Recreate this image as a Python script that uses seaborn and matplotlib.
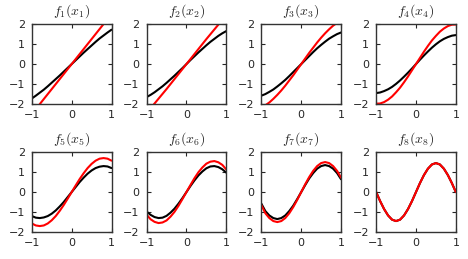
import matplotlib
matplotlib.use("Agg")
import matplotlib.pyplot as plt
import seaborn as sns
import numpy as np

x_vals = [-1.0, -0.9, -0.8, -0.7, -0.6, -0.5, -0.4, -0.3, -0.2, -0.1, 0.0,
          0.1, 0.2, 0.3, 0.4, 0.5, 0.6, 0.7, 0.8, 0.9, 1.0]

titles = ['$f_1(x_1)$', '$f_2(x_2)$', '$f_3(x_3)$', '$f_4(x_4)$',
          '$f_5(x_5)$', '$f_6(x_6)$', '$f_7(x_7)$', '$f_8(x_8)$']

# black curves
black_1 = [-1.72, -1.58, -1.43, -1.28, -1.11, -0.93, -0.75, -0.57, -0.38, -0.19, 0.0,
           0.19, 0.38, 0.57, 0.75, 0.93, 1.11, 1.28, 1.43, 1.58, 1.72]
black_2 = [-1.65, -1.54, -1.41, -1.26, -1.11, -0.94, -0.76, -0.58, -0.39, -0.20, 0.0,
           0.20, 0.39, 0.58, 0.76, 0.94, 1.11, 1.26, 1.41, 1.54, 1.65]
black_3 = [-1.58, -1.50, -1.39, -1.27, -1.12, -0.96, -0.79, -0.60, -0.40, -0.20, 0.0,
           0.20, 0.40, 0.60, 0.79, 0.96, 1.12, 1.27, 1.39, 1.50, 1.58]
black_4 = [-1.45, -1.42, -1.35, -1.26, -1.14, -0.99, -0.82, -0.63, -0.43, -0.22, 0.0,
           0.22, 0.43, 0.63, 0.82, 0.99, 1.14, 1.26, 1.35, 1.42, 1.45]
black_5 = [-1.20, -1.28, -1.30, -1.27, -1.20, -1.08, -0.92, -0.72, -0.50, -0.25, 0.0,
           0.25, 0.50, 0.72, 0.92, 1.08, 1.20, 1.27, 1.30, 1.28, 1.20]
black_6 = [-0.97, -1.14, -1.25, -1.30, -1.28, -1.19, -1.03, -0.83, -0.58, -0.30, 0.0,
           0.30, 0.58, 0.83, 1.03, 1.19, 1.28, 1.30, 1.25, 1.14, 0.97]
black_7 = [-0.58, -0.95, -1.17, -1.30, -1.35, -1.30, -1.17, -0.95, -0.68, -0.35, 0.0,
           0.35, 0.68, 0.95, 1.17, 1.30, 1.35, 1.30, 1.17, 0.95, 0.64]
black_8 = [0.0, -0.45, -0.85, -1.17, -1.38, -1.45, -1.38, -1.17, -0.85, -0.45, 0.0,
           0.45, 0.85, 1.17, 1.38, 1.45, 1.38, 1.17, 0.85, 0.45, 0.0]

# red curves
red_1 = [-2.5, -2.25, -2.0, -1.75, -1.5, -1.25, -1.0, -0.75, -0.5, -0.25, 0.0,
         0.25, 0.5, 0.75, 1.0, 1.25, 1.5, 1.75, 2.0, 2.25, 2.5]
red_2 = [-2.4, -2.2, -1.97, -1.73, -1.49, -1.25, -1.0, -0.75, -0.5, -0.25, 0.0,
         0.25, 0.5, 0.75, 1.0, 1.25, 1.49, 1.73, 1.97, 2.2, 2.4]
red_3 = [-2.18, -2.06, -1.92, -1.74, -1.54, -1.32, -1.08, -0.82, -0.56, -0.28, 0.0,
         0.28, 0.56, 0.82, 1.08, 1.32, 1.54, 1.74, 1.92, 2.06, 2.18]
red_4 = [-1.98, -1.97, -1.90, -1.78, -1.62, -1.41, -1.18, -0.91, -0.62, -0.31, 0.0,
         0.31, 0.62, 0.91, 1.18, 1.41, 1.62, 1.78, 1.90, 1.97, 1.98]
red_5 = [-1.57, -1.67, -1.70, -1.67, -1.57, -1.41, -1.20, -0.94, -0.65, -0.33, 0.0,
         0.33, 0.65, 0.94, 1.20, 1.41, 1.57, 1.67, 1.70, 1.67, 1.57]
red_6 = [-1.13, -1.36, -1.49, -1.55, -1.52, -1.42, -1.23, -0.99, -0.69, -0.35, 0.0,
         0.35, 0.69, 0.99, 1.23, 1.42, 1.52, 1.55, 1.49, 1.36, 1.13]
red_7 = [-0.65, -1.06, -1.30, -1.45, -1.50, -1.45, -1.30, -1.06, -0.75, -0.39, 0.0,
         0.39, 0.75, 1.06, 1.30, 1.45, 1.50, 1.45, 1.30, 1.06, 0.72]
red_8 = [0.0, -0.45, -0.85, -1.17, -1.38, -1.45, -1.38, -1.17, -0.85, -0.45, 0.0,
         0.45, 0.85, 1.17, 1.38, 1.45, 1.38, 1.17, 0.85, 0.45, 0.0]

black_curves = [black_1, black_2, black_3, black_4, black_5, black_6, black_7, black_8]
red_curves = [red_1, red_2, red_3, red_4, red_5, red_6, red_7, red_8]

sns.set_style('ticks', {'xtick.direction': 'in', 'ytick.direction': 'in',
                        'axes.edgecolor': '#333333'})
plt.rcParams['font.family'] = ['DejaVu Sans']
plt.rcParams['mathtext.fontset'] = 'cm'
plt.rcParams['xtick.labelsize'] = 8
plt.rcParams['ytick.labelsize'] = 8
plt.rcParams['xtick.major.size'] = 3
plt.rcParams['ytick.major.size'] = 3

fig, axes = plt.subplots(2, 4, figsize=(4.68, 2.59), dpi=100)
fig.subplots_adjust(left=0.068, right=0.974, top=0.907, bottom=0.104,
                    wspace=0.44, hspace=0.6)

for i, ax in enumerate(axes.flat):
    sns.lineplot(x=x_vals, y=black_curves[i], color='black', linewidth=1.5, ax=ax)
    sns.lineplot(x=x_vals, y=red_curves[i], color='red', linewidth=1.5, ax=ax)
    ax.set_xlim(-1, 1)
    ax.set_ylim(-2, 2)
    ax.set_xticks([-1, 0, 1])
    ax.set_yticks([-2, -1, 0, 1, 2])
    ax.tick_params(axis='x', top=True, pad=4)
    ax.tick_params(axis='y', right=True, pad=5)
    ax.set_title(titles[i], fontsize=10, y=1.0, pad=7)
    for sp in ax.spines.values():
        sp.set_linewidth(1.0)

fig.savefig('out.png', dpi=100)
